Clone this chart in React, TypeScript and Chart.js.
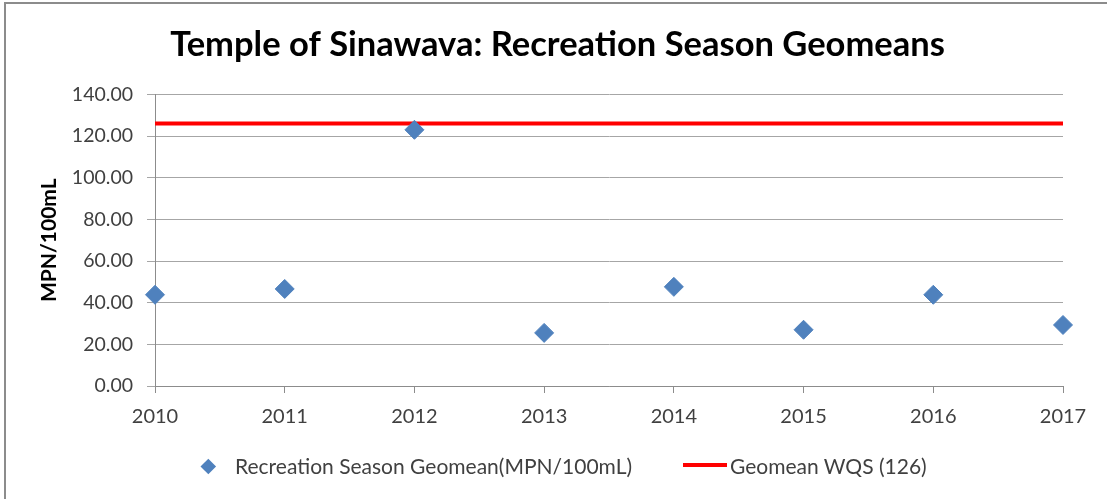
import React, { useEffect, useRef } from "react";
import { Chart, registerables } from "chart.js";

Chart.register(...registerables);

const TITLE = "Temple of Sinawava: Recreation Season Geomeans";
const Y_AXIS_TITLE = "MPN/100mL";
const YEARS = [2010, 2011, 2012, 2013, 2014, 2015, 2016, 2017];
const GEOMEANS = [43.8, 46.6, 123.0, 25.5, 47.6, 27.0, 43.8, 29.3];
const WQS = 126;
const SERIES_LABEL = "Recreation Season Geomean(MPN/100mL)";
const WQS_LABEL = "Geomean WQS (126)";
const Y_MIN = 0;
const Y_MAX = 140;
const Y_STEP = 20;

const W = 1107;
const H = 499;
const FONT = "Lato, 'Open Sans', sans-serif";
const TEXT = "#404040";
const BLUE = "#4f81bd";
const RED = "#ff0000";

const PAD_LEFT = 52;
const PLOT_LEFT = 155;
const PLOT_RIGHT_GAP = 44;

export default function App() {
  const ref = useRef<HTMLCanvasElement | null>(null);

  useEffect(() => {
    if (!ref.current) return;
    const chart = new Chart(ref.current, {
      type: "scatter",
      data: {
        datasets: [
          {
            label: SERIES_LABEL,
            data: YEARS.map((y, i) => ({ x: y, y: GEOMEANS[i] })),
            pointStyle: "rectRot",
            pointRadius: 9.5,
            pointHoverRadius: 9.5,
            backgroundColor: BLUE,
            borderColor: BLUE,
            borderWidth: 1,
            showLine: false,
            clip: false,
            order: 1,
          },
          {
            label: WQS_LABEL,
            data: [
              { x: YEARS[0], y: WQS },
              { x: YEARS[YEARS.length - 1], y: WQS },
            ],
            showLine: true,
            borderColor: RED,
            backgroundColor: RED,
            borderWidth: 4,
            pointRadius: 0,
            pointHoverRadius: 0,
            order: 2,
          },
        ],
      },
      options: {
        animation: false,
        responsive: false,
        devicePixelRatio: 1,
        layout: { padding: { left: PAD_LEFT, right: PLOT_RIGHT_GAP, top: 0, bottom: 0 } },
        plugins: {
          legend: { display: false },
          tooltip: { enabled: false },
          title: {
            display: true,
            text: TITLE,
            color: "#000000",
            font: { family: FONT, size: 34.5, weight: "bold" },
            padding: { top: 24, bottom: 29 },
          },
        },
        scales: {
          x: {
            type: "linear",
            min: YEARS[0],
            max: YEARS[YEARS.length - 1],
            afterFit: (s: any) => {
              s.height = 113;
            },
            ticks: {
              stepSize: 1,
              color: TEXT,
              padding: 12,
              font: { family: FONT, size: 20 },
              callback: (v: any) => String(v),
            },
            grid: {
              drawOnChartArea: false,
              drawTicks: true,
              tickLength: 7,
              color: "#8c8c8c",
            },
            border: { color: "#8c8c8c", width: 1 },
          },
          y: {
            min: Y_MIN,
            max: Y_MAX,
            afterFit: (s: any) => {
              s.width = PLOT_LEFT - PAD_LEFT;
            },
            ticks: {
              stepSize: Y_STEP,
              color: TEXT,
              padding: 14,
              font: { family: FONT, size: 19.5 },
              callback: (v: any) => Number(v).toFixed(2),
            },
            grid: {
              color: "#a6a6a6",
              drawTicks: true,
              tickLength: 8,
            },
            border: { color: "#8c8c8c", width: 1 },
            title: {
              display: true,
              text: Y_AXIS_TITLE,
              color: "#000000",
              font: { family: FONT, size: 21, weight: "bold" },
              padding: { top: -15, bottom: 0 },
            },
          },
        },
      },
    });
    return () => chart.destroy();
  }, []);

  const legendText: React.CSSProperties = {
    position: "absolute",
    top: 453,
    fontFamily: FONT,
    fontSize: 21,
    color: TEXT,
    whiteSpace: "nowrap",
    lineHeight: "26px",
  };

  return (
    <div
      style={{
        position: "fixed",
        left: 0,
        top: 0,
        width: W,
        height: H,
        background: "#ffffff",
        overflow: "hidden",
      }}
    >
      <canvas
        ref={ref}
        width={W}
        height={H}
        style={{ position: "absolute", left: 0, top: 0, width: W, height: H }}
      />
      <div
        style={{
          position: "absolute",
          left: 4,
          top: 2,
          right: -10,
          bottom: -10,
          borderTop: "2px solid #8c8c8c",
          borderLeft: "2px solid #8c8c8c",
          pointerEvents: "none",
        }}
      />
      <div
        style={{
          position: "absolute",
          left: 203,
          top: 461,
          width: 10.6,
          height: 10.6,
          background: BLUE,
          transform: "rotate(45deg)",
        }}
      />
      <div style={{ ...legendText, left: 235 }}>{SERIES_LABEL}</div>
      <div
        style={{
          position: "absolute",
          left: 683,
          top: 463,
          width: 44,
          height: 4,
          background: RED,
        }}
      />
      <div style={{ ...legendText, left: 730 }}>{WQS_LABEL}</div>
    </div>
  );
}
